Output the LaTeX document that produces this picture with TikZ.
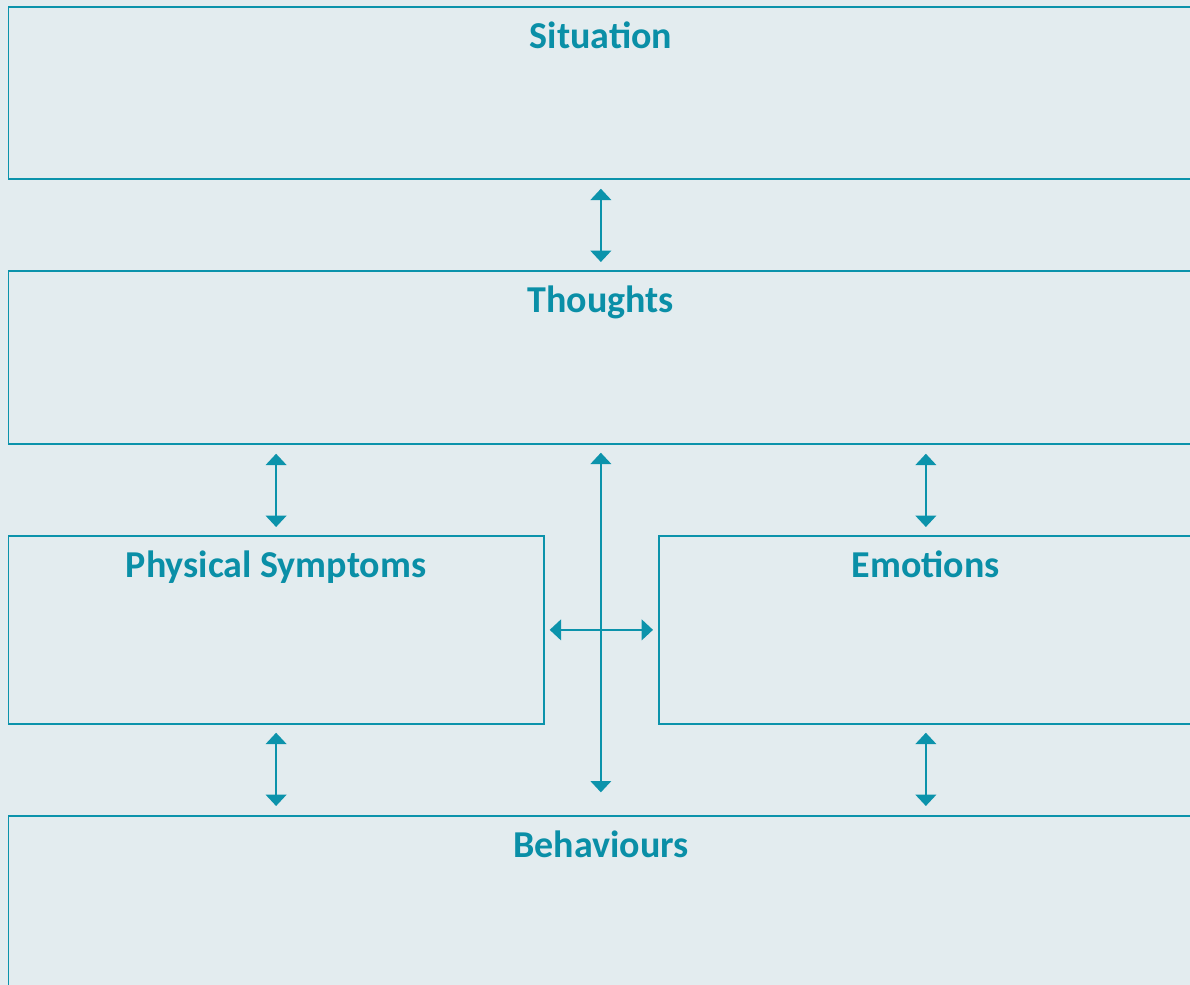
\documentclass[tikz,border=0pt]{standalone}
\usepackage{fontspec}
\setsansfont{Carlito}
\usetikzlibrary{arrows.meta}
\definecolor{bgcol}{HTML}{E3ECEF}
\definecolor{linecol}{HTML}{0C93AB}
\definecolor{tealtext}{HTML}{0A8FA7}
\tikzset{
  box/.style={draw=linecol, line width=1.3pt, anchor=north west, inner sep=0pt},
  lbl/.style={text=tealtext, font=\sffamily\bfseries\fontsize{28.5}{34}\selectfont, anchor=base},
  link/.style={draw=linecol, line width=1.4pt, {Triangle[width=15.5pt,length=8.5pt]}-{Triangle[width=15.5pt,length=8.5pt]}}
}
\begin{document}
\begin{tikzpicture}[x=0.75pt,y=-0.75pt]
\clip (0,0) rectangle (1190,985);
\fill[bgcol] (0,0) rectangle (1190,985);
\node[box, minimum width=888.75pt, minimum height=129pt] (situation) at (7.5,6) {};
\node[box, minimum width=888.75pt, minimum height=129.75pt] (thoughts) at (7.5,270) {};
\node[box, minimum width=401.6pt, minimum height=141pt] (physical) at (7.5,535) {};
\node[box, minimum width=400.5pt, minimum height=141pt] (emotions) at (658,535) {};
\node[box, minimum width=888.75pt, minimum height=150pt] (behaviours) at (7.5,815) {};
\node[lbl] at ([yshift=-32pt]situation.north) {Situation};
\node[lbl] at ([yshift=-32pt]thoughts.north) {Thoughts};
\node[lbl] at ([yshift=-32pt]physical.north) {Physical Symptoms};
\node[lbl] at ([yshift=-32pt]emotions.north) {Emotions};
\node[lbl] at ([yshift=-32pt]behaviours.north) {Behaviours};
\draw[link, shorten <=6.75pt, shorten >=6pt] (situation.south) -- (thoughts.north);
\draw[link, shorten <=6pt, shorten >=17pt] (thoughts.south) -- (behaviours.north);
\draw[link, shorten <=6pt, shorten >=6.75pt] (physical.north) -- (physical.north |- thoughts.south);
\draw[link, shorten <=6pt, shorten >=6.75pt] (emotions.north) -- (emotions.north |- thoughts.south);
\draw[link, shorten <=6pt, shorten >=6.75pt] (physical.south) -- (physical.south |- behaviours.north);
\draw[link, shorten <=6pt, shorten >=6.75pt] (emotions.south) -- (emotions.south |- behaviours.north);
\draw[link, shorten <=3.75pt, shorten >=3.75pt] (physical.east) -- (emotions.west);
\end{tikzpicture}
\end{document}
